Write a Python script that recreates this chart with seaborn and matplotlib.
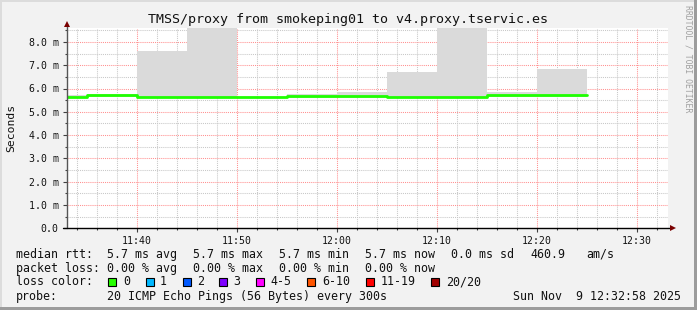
import matplotlib
matplotlib.use("Agg")
import matplotlib.pyplot as plt
import matplotlib.dates as mdates
from matplotlib.patches import Rectangle
from matplotlib.lines import Line2D
import numpy as np
import pandas as pd
import seaborn as sns

# ---------------- data ----------------
interval_starts = ["11:30", "11:35", "11:40", "11:45", "11:50", "11:55",
                   "12:00", "12:05", "12:10", "12:15", "12:20"]
interval_end = "12:25"
median_ms = [5.65, 5.70, 5.64, 5.64, 5.64, 5.66, 5.66, 5.65, 5.65, 5.71, 5.71]
smoke_hi_ms = [5.72, 5.76, 7.60, 9.50, 5.64, 5.76, 5.84, 6.71, 9.50, 5.84, 6.83]
smoke_lo_ms = [5.60, 5.62, 5.60, 5.60, 5.60, 5.61, 5.61, 5.60, 5.60, 5.62, 5.62]

y_ticks = [0, 1, 2, 3, 4, 5, 6, 7, 8]
y_tick_labels = ["0.0", "1.0 m", "2.0 m", "3.0 m", "4.0 m", "5.0 m", "6.0 m", "7.0 m", "8.0 m"]
x_ticks = ["11:40", "11:50", "12:00", "12:10", "12:20", "12:30"]

title = "TMSS/proxy from smokeping01 to v4.proxy.tservic.es"
loss_labels = ["0", "1", "2", "3", "4-5", "6-10", "11-19", "20/20"]
loss_colors = ["#26ff00", "#00b8ff", "#0059ff", "#7e00ff", "#ff00ff", "#ff5500", "#ff0000", "#a10000"]

day = "2025-11-09 "
t = pd.to_datetime([day + s for s in interval_starts + [interval_end]])
df = pd.DataFrame({
    "time": t,
    "median": median_ms + [median_ms[-1]],
    "hi": smoke_hi_ms + [smoke_hi_ms[-1]],
    "lo": smoke_lo_ms + [smoke_lo_ms[-1]],
})

# ---------------- style ----------------
sns.set_theme(style="white")
plt.rcParams["font.family"] = ["DejaVu Sans Mono"]
W, H = 697, 310
fig = plt.figure(figsize=(W / 100, H / 100), dpi=100)
BG = "#f2f2f2"
fig.patch.set_facecolor(BG)

def fx(x):
    return x / W

def fy(y):
    return 1 - y / H

x0, x1, ytop, ybot = 67, 668, 28, 228.3
ax = fig.add_axes([fx(x0), fy(ybot), fx(x1) - fx(x0), (ybot - ytop) / H])
ax.set_facecolor("white")
for s in ax.spines.values():
    s.set_visible(False)

xmin = pd.Timestamp(day + "11:33:00")
xmax = xmin + pd.Timedelta(minutes=60.1)
ax.set_xlim(xmin, xmax)
ax.set_ylim(0, (ybot - ytop) / 23.3)

# grid
ax.set_axisbelow(True)
ax.set_xticks(pd.to_datetime([day + s for s in x_ticks]))
ax.xaxis.set_minor_locator(mdates.MinuteLocator(byminute=range(0, 60, 2)))
ax.xaxis.set_major_formatter(mdates.DateFormatter("%H:%M"))
ax.set_yticks(y_ticks)
ax.set_yticklabels(y_tick_labels)
ax.set_yticks(np.arange(0.5, 8.6, 1.0), minor=True)
ax.grid(which="minor", color="#c8c8c8", linestyle=(0, (1, 1)), linewidth=0.75)
ax.grid(which="major", color="#ff9090", linestyle=(0, (1, 1)), linewidth=0.75)

# smoke
ax.fill_between(df["time"], df["lo"], df["hi"], step="post", color="#dadada",
                linewidth=0, zorder=2)
# median
sns.lineplot(data=df, x="time", y="median", ax=ax, color="#1eff00",
             linewidth=2.0, drawstyle="steps-post", zorder=3)
ax.set_xlabel("")
ax.set_ylabel("")

ax.tick_params(axis="both", which="major", length=3, width=0.8, color="#404040",
               labelsize=7.1, pad=3, labelcolor="#111111")
ax.tick_params(axis="both", which="minor", length=1.5, width=0.8, color="#404040")
ax.tick_params(axis="y", which="both", left=True)
ax.tick_params(axis="x", which="both", bottom=True, pad=2.5)

# axis lines + arrows
fig.add_artist(Line2D([fx(x0), fx(x0)], [fy(ybot), fy(24)], color="#555555", lw=1.0))
fig.add_artist(Line2D([fx(63), fx(671)], [fy(ybot), fy(ybot)], color="#000000", lw=1.0))
fig.add_artist(Line2D([fx(x0)], [fy(24)], marker="^", markersize=4.5, color="#7a0000",
                      markeredgewidth=0))
fig.add_artist(Line2D([fx(673)], [fy(ybot)], marker=">", markersize=4.5, color="#7a0000",
                      markeredgewidth=0))

# title and labels
fig.text(fx(347.5), fy(19.3), title, ha="center", va="center", fontsize=9.6, color="#111111")
fig.text(fx(11), fy(128), "Seconds", ha="center", va="center", rotation=90,
         fontsize=8.2, color="#111111")
fig.text(fx(688), fy(59), "RRDTOOL / TOBI OETIKER", ha="center", va="center",
         rotation=270, fontsize=5.9, color="#a0a0a0")

# legend area
fs = 8.4
tc = "#111111"
rows = [254.3, 268.3, 281.7, 296.7]
line1 = [(16, "median rtt:"), (107, "5.7 ms avg"), (193, "5.7 ms max"),
         (279, "5.7 ms min"), (365, "5.7 ms now"), (451, "0.0 ms sd"),
         (530, "460.9"), (586, "am/s")]
line2 = [(16, "packet loss:"), (107, "0.00 % avg"), (193, "0.00 % max"),
         (279, "0.00 % min"), (365, "0.00 % now")]
line4 = [(16, "probe:"), (107, "20 ICMP Echo Pings (56 Bytes) every 300s"),
         (513, "Sun Nov  9 12:32:58 2025")]
for x, s in line1:
    fig.text(fx(x), fy(rows[0]), s, ha="left", va="center", fontsize=fs, color=tc)
for x, s in line2:
    fig.text(fx(x), fy(rows[1]), s, ha="left", va="center", fontsize=fs, color=tc)
for x, s in line4:
    fig.text(fx(x), fy(rows[3]), s, ha="left", va="center", fontsize=fs, color=tc)
fig.text(fx(16), fy(rows[2]), "loss color:", ha="left", va="center", fontsize=fs, color=tc)
sq_x = [108.3, 145.7, 183, 219, 256, 307, 365.7, 430.7]
lab_x = [123, 160, 197, 233, 270, 322, 380.7, 445.7]
for sx, lx, lab, col in zip(sq_x, lab_x, loss_labels, loss_colors):
    fig.add_artist(Rectangle((fx(sx), fy(rows[2] + 4)), 8 / W, 8 / H,
                             facecolor=col, edgecolor="black", linewidth=0.8))
    fig.text(fx(lx), fy(rows[2]), lab, ha="left", va="center", fontsize=fs, color=tc)

# frame
fig.add_artist(Rectangle((0, 0), fx(2), 1, facecolor="#dcdcdc", edgecolor="none"))
fig.add_artist(Rectangle((0, fy(2)), 1, 2 / H, facecolor="#dcdcdc", edgecolor="none"))
fig.add_artist(Rectangle((fx(W - 3), 0), 3 / W, 1, facecolor="#9c9c9c", edgecolor="none"))
fig.add_artist(Rectangle((0, 0), 1, 3 / H, facecolor="#9c9c9c", edgecolor="none"))

fig.savefig("out.png", dpi=100, facecolor=BG)
